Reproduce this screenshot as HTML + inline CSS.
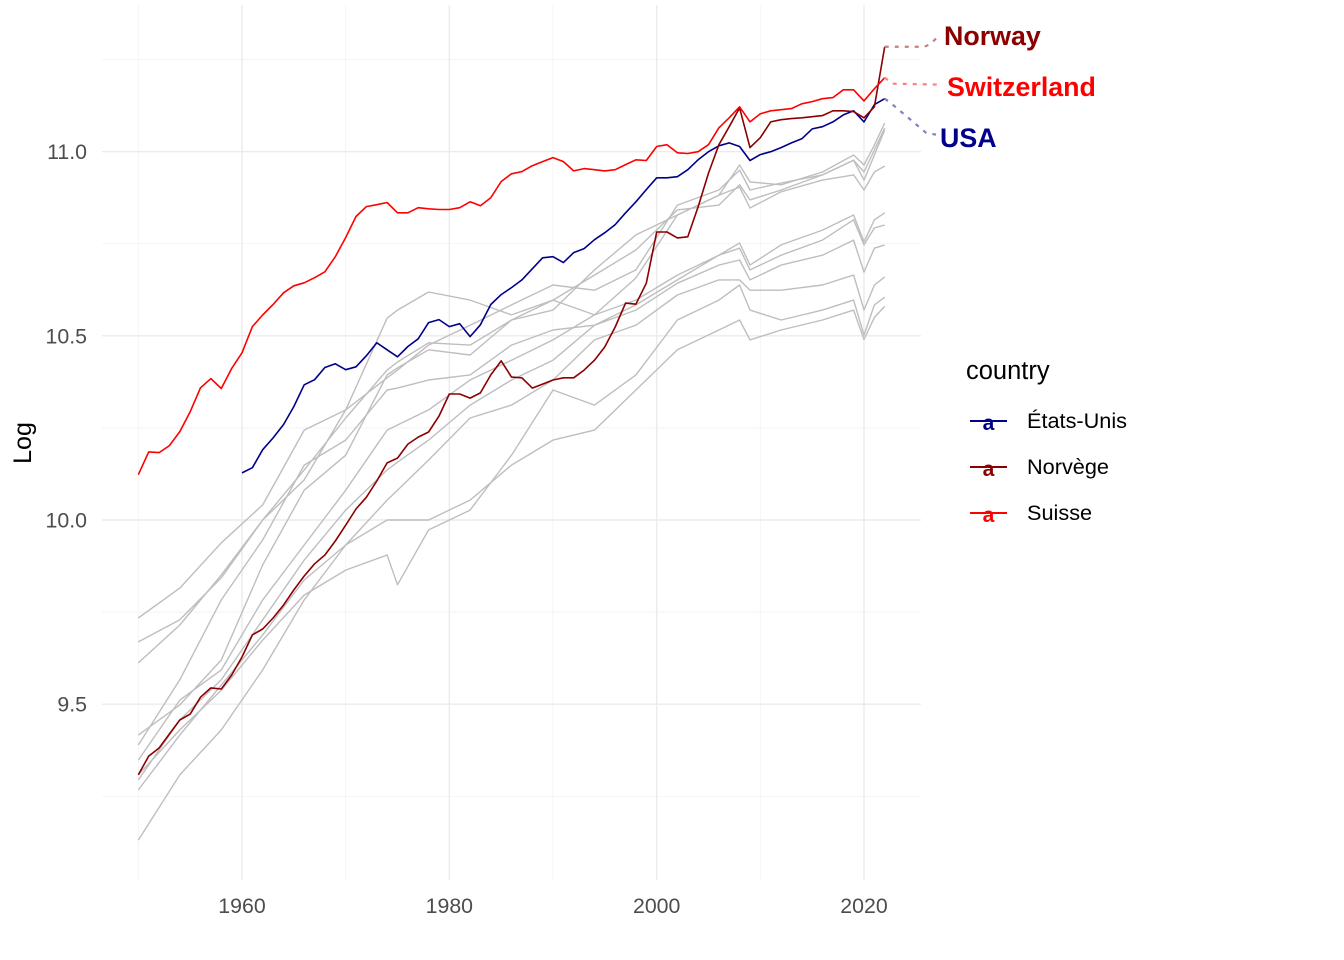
<!DOCTYPE html>
<html><head><meta charset="utf-8"><style>
html,body{margin:0;padding:0;background:#fff;}
svg{display:block;font-family:"Liberation Sans",Arial,sans-serif;}
</style></head><body>
<svg id="chart" width="1344" height="960" viewBox="0 0 1344 960" xmlns="http://www.w3.org/2000/svg" font-family="Liberation Sans, Arial, sans-serif">
<g id="grid"></g>
<g id="series"></g>
<g id="labels"></g>
<g id="axes"></g>
<text x="0" y="0" transform="translate(31,443) rotate(-90)" text-anchor="middle" font-size="25" fill="#000">Log</text>
<g>
<text x="966" y="379" font-size="25.5" fill="#000">country</text>
<g>
<line x1="970" y1="421" x2="1007" y2="421" stroke="#00008b" stroke-width="2"/>
<text x="988.5" y="430" text-anchor="middle" font-family="Liberation Sans, Arial, sans-serif" font-size="21" font-weight="bold" fill="#00008b">a</text>
<text x="1027" y="428" font-size="21.7" fill="#000">États-Unis</text></g>
<g>
<line x1="970" y1="467" x2="1007" y2="467" stroke="#8b0000" stroke-width="2"/>
<text x="988.5" y="476" text-anchor="middle" font-family="Liberation Sans, Arial, sans-serif" font-size="21" font-weight="bold" fill="#8b0000">a</text>
<text x="1027" y="474" font-size="21.7" fill="#000">Norvège</text></g>
<g>
<line x1="970" y1="513" x2="1007" y2="513" stroke="#ff0000" stroke-width="2"/>
<text x="988.5" y="522" text-anchor="middle" font-family="Liberation Sans, Arial, sans-serif" font-size="21" font-weight="bold" fill="#ff0000">a</text>
<text x="1027" y="520" font-size="21.7" fill="#000">Suisse</text></g>
</g>
</svg>
<script>
const xTicks = [1960, 1980, 2000, 2020];
const xMinor = [1950, 1970, 1990, 2010];
const yTicks = [9.5, 10.0, 10.5, 11.0];
const yTickLabels = ["9.5", "10.0", "10.5", "11.0"];
const yMinor = [9.25, 9.75, 10.25, 10.75, 11.25];

const suisseStart = 1950;
const suisse = [10.123,10.185,10.183,10.202,10.240,10.294,10.359,10.384,10.357,10.411,
10.454,10.525,10.557,10.585,10.617,10.636,10.644,10.658,10.674,10.715,
10.767,10.824,10.851,10.856,10.862,10.834,10.834,10.848,10.845,10.843,
10.843,10.848,10.864,10.853,10.875,10.919,10.940,10.946,10.962,10.973,
10.984,10.973,10.948,10.954,10.951,10.948,10.951,10.965,10.978,10.976,
11.014,11.019,10.997,10.995,11.000,11.019,11.065,11.092,11.122,11.081,
11.103,11.111,11.114,11.117,11.130,11.136,11.144,11.147,11.168,11.168,
11.138,11.171,11.201];

const norwayStart = 1950;
const norway = [9.308,9.359,9.381,9.419,9.457,9.473,9.519,9.544,9.541,9.579,
9.628,9.688,9.704,9.734,9.769,9.810,9.848,9.881,9.905,9.943,
9.986,10.030,10.062,10.106,10.155,10.168,10.206,10.225,10.239,10.282,
10.342,10.342,10.331,10.345,10.394,10.432,10.388,10.386,10.358,10.369,
10.380,10.386,10.386,10.407,10.434,10.470,10.524,10.589,10.586,10.643,
10.782,10.782,10.766,10.769,10.850,10.942,11.019,11.068,11.119,11.011,
11.038,11.081,11.087,11.090,11.092,11.095,11.098,11.111,11.111,11.109,
11.092,11.122,11.285];

const usaStart = 1960;
const usa = [10.128,10.142,10.191,10.223,10.259,10.308,10.367,10.381,10.414,10.424,
10.408,10.416,10.446,10.481,10.462,10.443,10.471,10.492,10.536,10.544,
10.525,10.533,10.498,10.530,10.585,10.612,10.631,10.652,10.682,10.712,
10.715,10.699,10.726,10.737,10.761,10.780,10.802,10.834,10.864,10.897,
10.929,10.929,10.932,10.951,10.978,11.000,11.016,11.024,11.014,10.976,
10.992,11.000,11.011,11.024,11.035,11.062,11.068,11.081,11.100,11.111,
11.081,11.128,11.144];

const greyYears = [1950,1954,1958,1962,1966,1970,1974,1975,1978,1982,1986,1990,1994,1998,2002,2006,2008,2009,2012,2016,2019,2020,2021,2022];
const greyA = [9.734,9.815,9.938,10.041,10.244,10.299,10.386,10.407,10.475,10.529,10.584,10.638,10.624,10.679,10.855,10.896,10.950,10.896,10.915,10.937,10.977,10.945,11.005,11.064];
const greyB = [9.669,9.729,9.843,10.000,10.109,10.299,10.548,10.570,10.619,10.597,10.557,10.597,10.557,10.657,10.828,10.882,10.964,10.918,10.910,10.945,10.991,10.964,11.018,11.078];
const greyC = [9.612,9.715,9.851,10.000,10.136,10.277,10.407,10.429,10.481,10.475,10.543,10.597,10.665,10.733,10.842,10.855,10.910,10.869,10.896,10.937,10.977,10.923,10.991,11.059];
const greyD = [9.416,9.498,9.620,9.878,10.081,10.176,10.394,10.413,10.462,10.448,10.543,10.570,10.679,10.774,10.828,10.882,10.904,10.847,10.891,10.923,10.937,10.896,10.945,10.961];
const greyE = [9.389,9.566,9.783,9.946,10.149,10.217,10.353,10.358,10.380,10.394,10.475,10.516,10.529,10.584,10.652,10.719,10.752,10.692,10.747,10.787,10.828,10.755,10.815,10.834];
const greyF = [9.348,9.511,9.593,9.783,9.932,10.081,10.244,10.258,10.299,10.380,10.434,10.489,10.557,10.597,10.665,10.719,10.738,10.679,10.719,10.760,10.815,10.747,10.793,10.801];
const greyG = [9.294,9.457,9.566,9.729,9.891,10.027,10.136,10.157,10.217,10.312,10.380,10.434,10.529,10.570,10.643,10.692,10.706,10.652,10.692,10.719,10.760,10.673,10.738,10.747];
const greyH = [9.267,9.416,9.552,9.688,9.837,9.932,10.054,10.081,10.163,10.277,10.312,10.380,10.489,10.529,10.611,10.652,10.652,10.624,10.624,10.638,10.665,10.570,10.638,10.660];
const greyI = [9.308,9.430,9.538,9.674,9.796,9.864,9.905,9.824,9.973,10.027,10.176,10.353,10.312,10.394,10.543,10.597,10.638,10.570,10.543,10.570,10.597,10.502,10.584,10.605];
const greyJ = [9.131,9.308,9.430,9.593,9.783,9.932,10.000,10.000,10.000,10.054,10.149,10.217,10.244,10.353,10.462,10.516,10.543,10.489,10.516,10.543,10.570,10.490,10.550,10.580];

const NS = "http://www.w3.org/2000/svg";
const P = {left:102, right:921, top:5, bottom:880};
function xScale(yr){ return 242 + (yr - 1960) * (864 - 242) / 60; }
function yScale(v){ return 520 - (v - 10.0) * 368.3; }
function mk(tag, attrs, parent){
  const e = document.createElementNS(NS, tag);
  for (const k in attrs) e.setAttribute(k, attrs[k]);
  parent.appendChild(e); return e;
}
const grid = document.getElementById('grid');
const axes = document.getElementById('axes');
yMinor.forEach(v=>{ const l=mk('line',{x1:P.left,x2:P.right,y1:yScale(v),y2:yScale(v),stroke:'#f2f2f2','stroke-width':0.8},grid);
   });
xMinor.forEach(v=>{ const l=mk('line',{x1:xScale(v),x2:xScale(v),y1:P.top,y2:P.bottom,stroke:'#f2f2f2','stroke-width':0.8},grid);
   });
yTicks.forEach((v,i)=>{ const l=mk('line',{x1:P.left,x2:P.right,y1:yScale(v),y2:yScale(v),stroke:'#ebebeb','stroke-width':1.4},grid);
  
 const t=mk('text',{x:87,y:yScale(v)+7.5,'text-anchor':'end','font-size':21.3,fill:'#4d4d4d'},axes); t.textContent=yTickLabels[i];
   });
xTicks.forEach(v=>{ const l=mk('line',{x1:xScale(v),x2:xScale(v),y1:P.top,y2:P.bottom,stroke:'#ebebeb','stroke-width':1.4},grid);
  
 const t=mk('text',{x:xScale(v),y:913,'text-anchor':'middle','font-size':21.3,fill:'#4d4d4d'},axes); t.textContent=String(v);
   });

const series = document.getElementById('series');
function pathFrom(years, vals){ return vals.map((v,i)=>(i?'L':'M')+xScale(years[i]).toFixed(1)+','+yScale(v).toFixed(1)).join(''); }
function seq(start, n){ const a=[]; for(let i=0;i<n;i++) a.push(start+i); return a; }
[greyA,greyB,greyC,greyD,greyE,greyF,greyG,greyH,greyI,greyJ].forEach(g=>{
  const p=mk('path',{d:pathFrom(greyYears,g),fill:'none',stroke:'#bebebe','stroke-width':1.4,'stroke-linejoin':'round'},series);
   
});
const colored = [
 {name:'usa-line', start:usaStart, vals:usa, color:'#00008b', soft:'#8080c5'},
 {name:'norway-line', start:norwayStart, vals:norway, color:'#8b0000', soft:'#c58080'},
 {name:'switzerland-line', start:suisseStart, vals:suisse, color:'#ff0000', soft:'#ff8080'}
];
colored.forEach(s=>{
  const p=mk('path',{d:pathFrom(seq(s.start,s.vals.length),s.vals),fill:'none',stroke:s.color,'stroke-width':1.6,'stroke-linejoin':'round'},series);
   
});
const labels = document.getElementById('labels');
function endPt(s){ const n=s.vals.length; return [xScale(s.start+n-1), yScale(s.vals[n-1])]; }
const lab = [
 {s:colored[1], text:'Norway', tx:944, ty:45, path:(x,y)=>`M${x},${y} L${x+8},${y} L922,${y} Q930,${y} 939,${y-12}`},
 {s:colored[2], text:'Switzerland', tx:947, ty:96, path:(x,y)=>`M${x},${y} L${x+8},${y+6} L942,${y+7}`},
 {s:colored[0], text:'USA', tx:940, ty:147, path:(x,y)=>`M${x},${y} L${x+8},${y+6} L926,${y+34} L936,${y+36}`}
];
lab.forEach(l=>{
  const [x,y]=endPt(l.s);
  const c=mk('path',{d:l.path(x,y),fill:'none',stroke:l.s.soft,'stroke-width':2.2,'stroke-dasharray':'4 6'},labels);
   
  const t=mk('text',{x:l.tx,y:l.ty,'font-size':26.8,'font-weight':'bold',fill:l.s.color},labels);
  t.textContent=l.text;
   
});
</script>
</body></html>
